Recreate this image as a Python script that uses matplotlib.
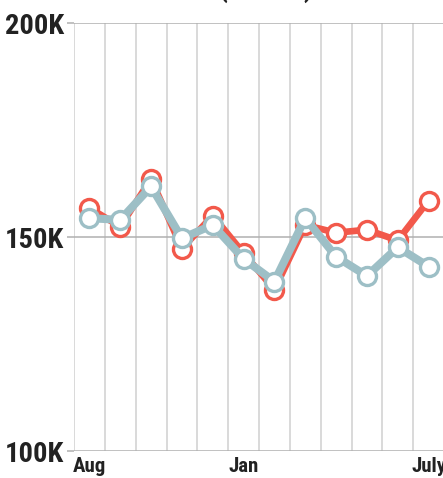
import matplotlib.pyplot as plt

months = ['Aug', 'Sep', 'Oct', 'Nov', 'Dec', 'Jan', 'Feb', 'Mar', 'Apr', 'May', 'June', 'July']
shown_labels = {0: 'Aug', 5: 'Jan', 11: 'July'}
series_red = [156.8, 152.4, 163.6, 147.3, 155.0, 146.2, 137.7, 152.8, 151.0, 151.7, 149.2, 158.5]
series_blue = [154.4, 154.0, 161.8, 149.7, 152.8, 144.9, 139.6, 154.4, 145.4, 140.9, 147.6, 143.1]
yticks = [100, 150, 200]
ytick_labels = ['100K', '150K', '200K']

font = {'family': ['Roboto Condensed', 'DejaVu Sans'], 'weight': 'bold'}

red = '#f2594b'
blue = '#9dbfc6'
ink = '#222222'

fig = plt.figure(figsize=(4.43, 4.78), dpi=100)
ax = fig.add_axes([74 / 443, 27 / 478, 370 / 443, 428 / 478])

x = list(range(len(months)))
ax.plot(x, series_red, color=red, lw=4.8, marker='o', ms=13, mfc='white',
        mec=red, mew=2.4, solid_joinstyle='round', zorder=3)
ax.plot(x, series_blue, color=blue, lw=5.8, marker='o', ms=13, mfc='white',
        mec=blue, mew=2.4, solid_joinstyle='round', zorder=4)

ax.set_xlim(-0.5, 11.5)
ax.set_ylim(100, 200)

ax.set_yticks(yticks)
ax.set_yticklabels(ytick_labels, fontsize=20.5, color=ink, **font)
ax.set_xticks(list(shown_labels.keys()))
ax.set_xticklabels(list(shown_labels.values()), fontsize=15, color=ink, **font)
ax.set_xticks([i - 0.5 for i in x], minor=True)

ax.tick_params(axis='y', length=5, width=1.1, color='#b0b0b0', pad=2)
ax.tick_params(axis='x', which='both', length=0, pad=4)

ax.grid(axis='y', which='major', color='#b0b0b0', lw=1.1)
ax.grid(axis='x', which='minor', color='#d0d0d0', lw=1.1)
ax.grid(axis='x', which='major', visible=False)
for s in ax.spines.values():
    s.set_visible(False)
ax.set_axisbelow(True)

fig.text(218 / 443, 1.0 + 3 / 478, '(dollars)', ha='left', va='baseline',
         fontsize=20, color=ink, **font)

fig.savefig('out.png', dpi=100)
